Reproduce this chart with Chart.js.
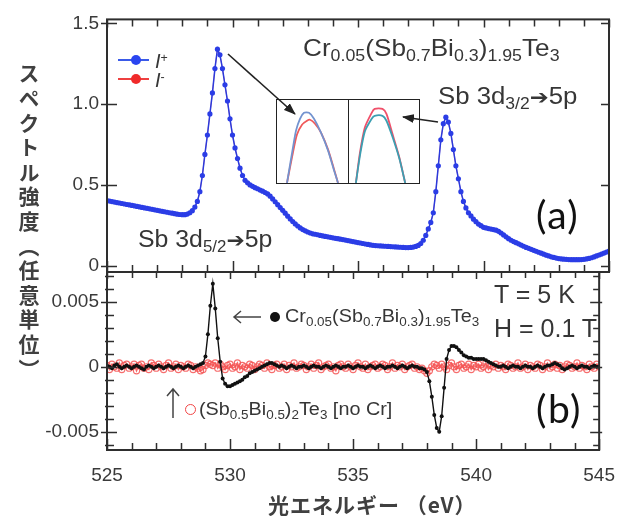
<!DOCTYPE html>
<html><head><meta charset="utf-8">
<script src="https://cdn.jsdelivr.net/npm/chart.js@4.4.1/dist/chart.umd.min.js"></script>
<style>
html,body{margin:0;padding:0;background:#fff;}
#wrap{position:relative;width:629px;height:519px;overflow:hidden;font-family:"Liberation Sans",Arial,sans-serif;color:#363636;}
canvas{position:absolute;}
.t{position:absolute;white-space:nowrap;line-height:1;transform-origin:0 50%;}
.t sub{font-size:68%;vertical-align:baseline;position:relative;top:0.32em;}
.t sup{font-size:62%;vertical-align:baseline;position:relative;top:-0.5em;}
.arr{font-family:"DejaVu Sans",sans-serif;font-size:88%;}
.box{position:absolute;border:1.5px solid #222;box-sizing:border-box;}
</style></head>
<body><div id="wrap">
<canvas id="cTop" width="629" height="519" style="left:0;top:0"></canvas>
<canvas id="cBot" width="629" height="519" style="left:0;top:0"></canvas>
<div class="box" style="left:276px;top:99px;width:73px;height:85px;background:#fff"></div>
<div class="box" style="left:348px;top:99px;width:72px;height:85px;background:#fff"></div>
<canvas id="cIn1" width="71" height="83" style="left:277px;top:100px"></canvas>
<canvas id="cIn2" width="70" height="83" style="left:349px;top:100px"></canvas>
<svg width="629" height="519" style="position:absolute;left:0;top:0">
<defs><marker id="ah" markerWidth="12" markerHeight="9" refX="11" refY="4.5" orient="auto" markerUnits="userSpaceOnUse"><path d="M0,0 L12,4.5 L0,9 z" fill="#222"/></marker></defs>
<line x1="228" y1="54" x2="295" y2="114" stroke="#222" stroke-width="1.6" marker-end="url(#ah)"/>
<line x1="438" y1="122" x2="403" y2="117" stroke="#222" stroke-width="1.6" marker-end="url(#ah)"/>
<g stroke="#444" stroke-width="1.5" fill="none">
<path d="M261,317 L234,317 M241,311 L234,317 L241,323"/>
<path d="M173,418 L173,389 M167,396 L173,389 L179,396"/>
</g>
</svg>

<div class="t" style="left:18px;top:63px;font-family:'Noto Sans CJK JP',sans-serif;font-weight:bold;font-size:21px;writing-mode:vertical-rl;letter-spacing:3.6px;color:#404040">スペクトル強度（任意単位）</div>
<div class="t" style="left:268px;top:494px;font-family:'Noto Sans CJK JP',sans-serif;font-weight:bold;font-size:21px;letter-spacing:1px;color:#404040">光エネルギー （eV）</div>

<div style="position:absolute;left:118px;top:59px;width:31px;height:2px;background:#3a5ae8"></div>
<div style="position:absolute;left:131px;top:55px;width:10px;height:10px;border-radius:50%;background:#2a45f0"></div>
<div class="t" style="left:155px;top:51px;font-size:20px;"><i>I</i><sup>+</sup></div>
<div style="position:absolute;left:118px;top:78px;width:31px;height:2px;background:#ee4040"></div>
<div style="position:absolute;left:131px;top:74px;width:10px;height:10px;border-radius:50%;background:#f02a2a"></div>
<div class="t" style="left:155px;top:70px;font-size:20px;"><i>I</i><sup>-</sup></div>

<div class="t" style="left:303px;top:36px;font-size:24px;transform:scaleX(1.09)">Cr<sub>0.05</sub>(Sb<sub>0.7</sub>Bi<sub>0.3</sub>)<sub>1.95</sub>Te<sub>3</sub></div>
<div class="t" style="left:438px;top:85px;font-size:23px;transform:scaleX(1.12)">Sb 3d<sub>3/2</sub><span class="arr">➔</span>5p</div>
<div class="t" style="left:138px;top:228px;font-size:23px;transform:scaleX(1.08)">Sb 3d<sub>5/2</sub><span class="arr">➔</span>5p</div>
<div class="t" style="left:536px;top:195px;font-family:Lato,'Open Sans',sans-serif;font-size:39px;letter-spacing:1.5px;color:#111">(a)</div>
<div class="t" style="left:536px;top:389px;font-family:Lato,'Open Sans',sans-serif;font-size:39px;letter-spacing:1.5px;color:#111">(b)</div>
<div class="t" style="left:494px;top:282px;font-size:25px;">T = 5 K</div>
<div class="t" style="left:494px;top:316px;font-size:25px;">H = 0.1 T</div>

<div style="position:absolute;left:270px;top:312px;width:10px;height:10px;border-radius:50%;background:#111"></div>
<div class="t" style="left:285px;top:307px;font-size:18px;transform:scaleX(1.1)">Cr<sub>0.05</sub>(Sb<sub>0.7</sub>Bi<sub>0.3</sub>)<sub>1.95</sub>Te<sub>3</sub></div>
<div style="position:absolute;left:185px;top:404px;width:9px;height:9px;border-radius:50%;border:1.5px solid #f04545"></div>
<div class="t" style="left:199px;top:400px;font-size:18px;transform:scaleX(1.1)">(Sb<sub>0.5</sub>Bi<sub>0.5</sub>)<sub>2</sub>Te<sub>3</sub> [no Cr]</div>
</div>

<script>
// ---------- data ----------
const E_START = 525, E_STEP = 0.1;   // photon energy grid (eV), 525.0 ... 545.0
// (a) spectrum intensity I+ (arb. units)
const iPlus = [
0.405,0.402,0.399,0.396,0.393,0.390,0.387,0.384,0.381,0.378,
0.375,0.372,0.369,0.366,0.363,0.360,0.357,0.354,0.351,0.348,
0.345,0.342,0.339,0.336,0.333,0.330,0.327,0.324,0.321,0.319,
0.318,0.318,0.322,0.330,0.343,0.365,0.400,0.460,0.560,0.690,
0.810,0.940,1.070,1.220,1.340,1.305,1.220,1.120,1.020,0.910,
0.810,0.730,0.665,0.605,0.560,0.530,0.515,0.502,0.493,0.485,
0.478,0.470,0.463,0.455,0.446,0.432,0.415,0.398,0.380,0.362,
0.345,0.327,0.309,0.292,0.276,0.261,0.248,0.236,0.226,0.218,
0.211,0.205,0.200,0.197,0.194,0.190,0.187,0.184,0.181,0.178,
0.175,0.172,0.170,0.167,0.164,0.161,0.158,0.155,0.152,0.149,
0.146,0.143,0.140,0.137,0.134,0.131,0.129,0.127,0.126,0.125,
0.124,0.123,0.122,0.121,0.120,0.119,0.118,0.117,0.116,0.115,
0.115,0.116,0.118,0.122,0.128,0.140,0.160,0.190,0.230,0.270,
0.330,0.460,0.620,0.780,0.880,0.920,0.890,0.820,0.720,0.620,
0.540,0.460,0.400,0.360,0.330,0.310,0.290,0.275,0.260,0.250,
0.240,0.236,0.232,0.229,0.226,0.222,0.215,0.205,0.193,0.181,
0.170,0.160,0.152,0.145,0.138,0.130,0.123,0.116,0.110,0.104,
0.098,0.092,0.086,0.080,0.074,0.068,0.063,0.058,0.054,0.050,
0.047,0.045,0.043,0.042,0.041,0.040,0.040,0.040,0.040,0.041,
0.042,0.045,0.048,0.052,0.057,0.063,0.069,0.075,0.081,0.087,
0.093];
// (a) I- : identical to I+ at this scale
const iMinus = iPlus;
// (b) difference spectrum, Cr0.05(Sb0.7Bi0.3)1.95Te3
const diffCr = [
0.0001,0.0000,-0.0001,0.0001,0.0002,0.0000,-0.0001,0.0000,0.0001,0.0000,
-0.0001,0.0000,0.0001,0.0000,-0.0001,-0.0002,0.0000,0.0001,0.0000,-0.0001,
0.0000,0.0001,0.0000,-0.0001,0.0000,0.0001,0.0000,-0.0001,0.0000,0.0001,
0.0000,-0.0001,0.0000,0.0001,0.0000,-0.0001,0.0000,0.0001,0.0002,0.0003,
0.0008,0.0025,0.0047,0.0064,0.0045,0.0022,0.0004,-0.0009,-0.0013,-0.0015,
-0.0015,-0.0014,-0.0013,-0.0012,-0.0011,-0.0010,-0.0008,-0.0007,-0.0005,-0.0004,
-0.0003,-0.0002,-0.0001,0.0000,0.0001,0.0002,0.0003,0.0003,0.0002,0.0001,
0.0000,0.0001,0.0000,-0.0001,0.0000,0.0001,0.0000,-0.0001,0.0000,0.0000,
0.0001,0.0000,-0.0001,0.0000,0.0001,0.0000,0.0000,-0.0001,0.0000,0.0001,
0.0000,-0.0001,0.0000,0.0001,0.0000,-0.0001,0.0000,0.0000,0.0001,0.0000,
-0.0001,0.0000,0.0001,0.0000,0.0000,-0.0001,0.0000,0.0001,0.0000,-0.0001,
0.0000,0.0001,0.0000,-0.0001,0.0000,0.0000,0.0001,0.0000,-0.0001,0.0000,
0.0001,0.0000,-0.0001,0.0000,0.0001,0.0000,0.0000,-0.0001,-0.0001,-0.0002,
-0.0004,-0.0011,-0.0023,-0.0037,-0.0047,-0.0050,-0.0038,-0.0016,0.0006,0.0013,
0.0016,0.0016,0.0015,0.0013,0.0011,0.0009,0.0008,0.0007,0.0007,0.0006,
0.0006,0.0006,0.0006,0.0006,0.0005,0.0004,0.0003,0.0002,0.0001,0.0000,
0.0000,0.0001,0.0000,-0.0001,0.0000,0.0001,0.0000,0.0000,-0.0001,0.0000,
0.0001,0.0000,0.0000,-0.0001,0.0000,0.0001,0.0000,-0.0001,0.0000,0.0001,
0.0001,0.0002,0.0003,0.0002,0.0001,-0.0001,-0.0002,-0.0001,0.0000,0.0001,
0.0000,-0.0001,0.0000,0.0001,0.0000,0.0000,-0.0001,0.0000,0.0001,0.0000,
0.0000];
// (b) difference spectrum, (Sb0.5Bi0.5)2Te3 [no Cr]
const diffNoCr = [
0.0001,-0.0002,0.0002,0.0000,-0.0001,0.0003,-0.0002,0.0001,0.0002,-0.0001,
0.0000,0.0002,-0.0003,0.0001,0.0002,-0.0001,0.0000,-0.0002,0.0003,0.0001,
-0.0001,0.0002,0.0000,-0.0002,0.0001,0.0003,-0.0001,0.0000,0.0002,-0.0002,
0.0001,0.0000,-0.0001,0.0002,0.0001,-0.0002,0.0000,-0.0001,-0.0003,-0.0002,
0.0001,0.0003,0.0002,0.0001,0.0003,-0.0001,0.0002,0.0000,-0.0002,0.0001,
0.0002,-0.0001,0.0000,0.0003,-0.0002,0.0001,0.0000,-0.0001,0.0002,0.0001,
-0.0002,0.0000,0.0002,0.0001,-0.0001,0.0003,0.0000,-0.0002,0.0001,0.0002,
-0.0001,0.0000,0.0002,-0.0002,0.0001,0.0000,0.0003,-0.0001,0.0000,0.0002,
0.0001,-0.0002,0.0000,0.0002,-0.0001,0.0001,0.0003,-0.0002,0.0000,0.0001,
0.0002,-0.0001,0.0000,-0.0003,0.0001,0.0002,0.0000,-0.0001,0.0002,0.0000,
-0.0002,0.0001,0.0003,0.0000,-0.0001,0.0002,-0.0002,0.0000,0.0001,0.0002,
-0.0001,0.0000,0.0002,0.0001,-0.0002,0.0000,0.0003,-0.0001,0.0001,0.0000,
0.0002,-0.0002,0.0000,0.0001,0.0002,-0.0001,0.0000,-0.0002,-0.0001,-0.0003,
-0.0005,-0.0003,0.0000,0.0002,0.0001,-0.0001,0.0002,0.0000,-0.0002,0.0001,
0.0003,0.0000,-0.0002,0.0001,0.0002,-0.0001,0.0000,0.0002,-0.0002,0.0001,
0.0000,0.0002,-0.0001,0.0000,0.0003,-0.0002,0.0001,0.0000,0.0002,-0.0001,
0.0001,0.0000,-0.0002,0.0002,0.0001,-0.0001,0.0000,0.0003,-0.0001,0.0000,
0.0002,-0.0002,0.0001,0.0000,-0.0001,0.0002,0.0001,-0.0002,0.0000,0.0003,
-0.0001,0.0000,0.0002,-0.0001,0.0001,-0.0002,0.0000,0.0002,0.0001,-0.0001,
0.0000,0.0003,-0.0001,0.0001,0.0000,-0.0002,0.0002,0.0000,-0.0001,0.0002,
0.0000];
// insets: peak tops, (position within box, height above box floor)
const inset1X    = [10,16,19,23,27,32,37,44,51,57,61];
const inset1Plus = [0,36,53,65,71,71,65,51,33,13,0];
const inset1MinX = [10,16,20,25,30,33,38,44,51,57,61];
const inset1Min  = [0,31,49,59,63,64,60,51,34,14,0];
const inset2X    = [7,11,16,23,26,34,38,44,51,57];
const inset2Min  = [0,30,56,71,75,75,70,50,26,0];
const inset2Plus = [0,27,52,65,68,68,63,47,25,0];
// tick labels / tick positions
const xTickLabels = [525,530,535,540,545];
const xTicks = [525,526,527,528,529,530,531,532,533,534,535,536,537,538,539,540,541,542,543,544,545];
const topYTicks = [0,0.5,1.0,1.5];
const botYMajor = [-0.005,0,0.005];
const botYMinor = [-0.006,-0.005,-0.004,-0.003,-0.002,-0.001,0,0.001,0.002,0.003,0.004,0.005,0.006,0.007];

// ---------- helpers ----------
const energies = iPlus.map((_, i) => +(E_START + i * E_STEP).toFixed(1));
const pts = (xs, ys) => ys.map((y, i) => ({x: xs[i], y}));
const FONT = {family: "'Liberation Sans', Arial, sans-serif", size: 19};

function framePlugin(cfg) {
  return {
    id: 'frame_' + cfg.name,
    afterDatasetsDraw(chart) {
      const {ctx, chartArea: a, scales} = chart;
      const xs = scales.x, ys = scales.y;
      ctx.save();
      ctx.strokeStyle = '#2e2e2e';
      ctx.lineWidth = 1.5;
      ctx.beginPath();
      for (const v of xTicks) {
        const px = Math.round(xs.getPixelForValue(v)) + 0.5;
        const major = xTickLabels.includes(v);
        if (cfg.top) { ctx.moveTo(px, a.top); ctx.lineTo(px, a.top + (major ? cfg.top[1] : cfg.top[0])); }
        if (cfg.bottom) { ctx.moveTo(px, a.bottom); ctx.lineTo(px, a.bottom - (major ? cfg.bottom[1] : cfg.bottom[0])); }
      }
      for (const t of cfg.yTicks) {
        const py = Math.round(ys.getPixelForValue(t.v)) + 0.5;
        if (t.left) { ctx.moveTo(a.left - t.left[0], py); ctx.lineTo(a.left + t.left[1], py); }
        if (t.right) { ctx.moveTo(a.right + t.right[0], py); ctx.lineTo(a.right - t.right[1], py); }
      }
      ctx.stroke();
      ctx.lineWidth = 2;
      ctx.strokeRect(a.left, a.top, a.right - a.left, a.bottom - a.top);
      ctx.restore();
    }
  };
}

const common = {responsive: false, animation: false, devicePixelRatio: 1,
  plugins: {legend: {display: false}, tooltip: {enabled: false}}};

// ---------- (a) ----------
new Chart(document.getElementById('cTop'), {
  type: 'line',
  data: {datasets: [
    {label: 'I+', data: pts(energies, iPlus), borderColor: '#2b3bdc', borderWidth: 1.5,
     pointRadius: 2.6, pointBorderWidth: 0, pointBackgroundColor: '#2b3de6', tension: 0},
    {label: 'I-', data: pts(energies, iMinus), borderColor: 'rgba(230,90,130,0.75)', borderWidth: 1,
     pointRadius: 0, tension: 0}
  ]},
  options: {...common,
    layout: {padding: {left: 0, top: 13, right: 20, bottom: 247}},
    scales: {
      x: {type: 'linear', min: 525, max: 545, display: false},
      y: {min: -0.036, max: 1.524, afterFit(s) { s.width = 107; },
          grid: {display: false, drawTicks: false}, border: {display: false},
          afterBuildTicks(s) { s.ticks = topYTicks.map(v => ({value: v})); },
          ticks: {padding: 8, color: '#3a3a3a', font: FONT,
                  callback: v => v === 0 ? '0' : v.toFixed(1)}}
    }},
  plugins: [framePlugin({name: 'a', top: [7, 8], bottom: [7, 11],
    yTicks: topYTicks.map(v => ({v, left: [6, 10], right: [0, 8]}))})]
});

// ---------- (b) ----------
new Chart(document.getElementById('cBot'), {
  type: 'line',
  data: {datasets: [
    {label: 'Cr0.05(Sb0.7Bi0.3)1.95Te3', data: pts(energies, diffCr), borderColor: '#111', borderWidth: 1.4,
     pointRadius: 2, pointBorderWidth: 0, pointBackgroundColor: '#111', tension: 0},
    {label: '(Sb0.5Bi0.5)2Te3', data: pts(energies, diffNoCr), borderColor: 'rgba(245,80,80,0.85)', borderWidth: 1.5,
     pointRadius: 3.1, pointBorderWidth: 1.2, pointBorderColor: 'rgba(245,85,85,0.85)', pointBackgroundColor: 'rgba(255,255,255,0)', tension: 0}
  ]},
  options: {...common,
    layout: {padding: {left: 0, top: 272, right: 20, bottom: 29}},
    scales: {
      x: {type: 'linear', min: 525, max: 545, afterFit(s) { s.height = 40; },
          grid: {display: false, drawTicks: false}, border: {display: false},
          afterBuildTicks(s) { s.ticks = xTickLabels.map(v => ({value: v})); },
          ticks: {padding: 14, color: '#3a3a3a', font: FONT, maxRotation: 0}},
      y: {min: -0.0064, max: 0.0073, afterFit(s) { s.width = 107; },
          grid: {display: false, drawTicks: false}, border: {display: false},
          afterBuildTicks(s) { s.ticks = botYMajor.map(v => ({value: v})); },
          ticks: {padding: 8, color: '#3a3a3a', font: FONT,
                  callback: v => v === 0 ? '0' : v.toFixed(3)}}
    }},
  plugins: [framePlugin({name: 'b', top: [6, 7], bottom: [7, 11],
    yTicks: botYMinor.map(v => botYMajor.includes(v)
      ? {v, left: [6, 10], right: [3, 9]} : {v, left: [2, 7], right: [0, 6]})})]
});

// ---------- insets ----------
function inset(id, blueX, blueY, blueCol, redX, redY, redCol) {
  new Chart(document.getElementById(id), {
    type: 'line',
    data: {datasets: [
      {data: pts(blueX, blueY), borderColor: blueCol, borderWidth: 1.8, pointRadius: 0, tension: 0.25},
      {data: pts(redX, redY), borderColor: redCol, borderWidth: 1.8, pointRadius: 0, tension: 0.25}
    ]},
    options: {...common, layout: {padding: 0},
      scales: {x: {type: 'linear', min: 0, max: 71, display: false},
               y: {min: 0, max: 84, display: false}}}
  });
}
inset('cIn1', inset1X, inset1Plus, '#7393cf', inset1MinX, inset1Min, '#f05a5a');
inset('cIn2', inset2X, inset2Plus, '#3c9fb2', inset2X, inset2Min, '#f0506a');
</script>
</body></html>
